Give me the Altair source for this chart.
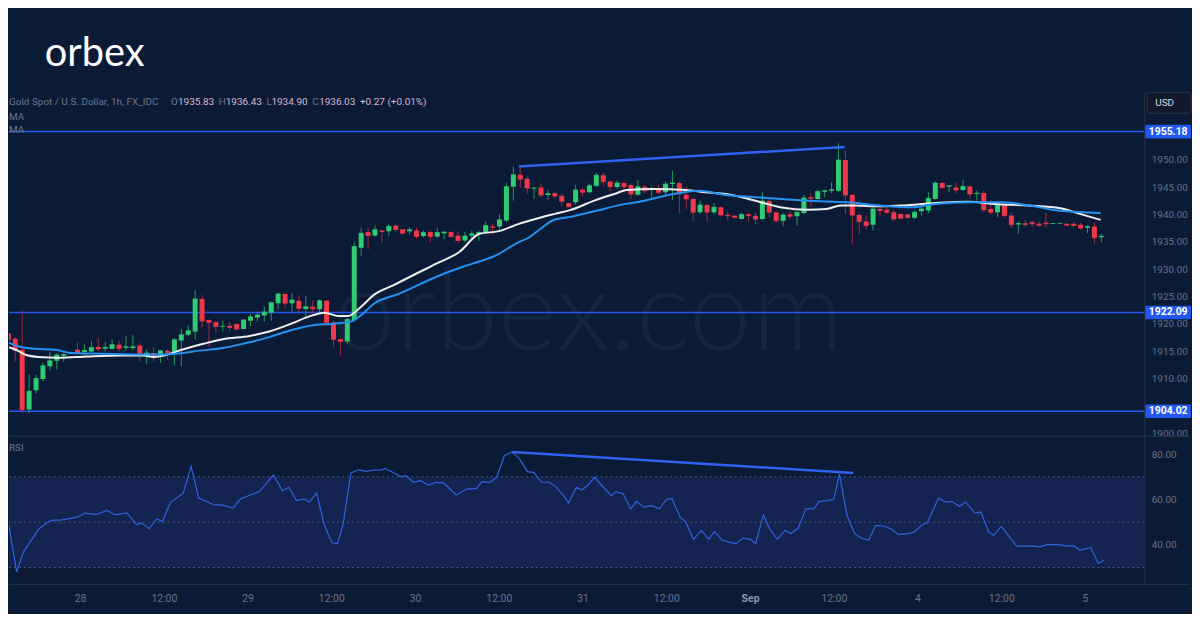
import json
import altair as alt
import pandas as pd

# ---------------- data ----------------
opens = [1918.30, 1917.27, 1915.27, 1904.36, 1907.88, 1909.94, 1912.24, 1913.27, 1914.18, 1914.60,
         1915.27, 1914.85, 1914.97, 1915.76, 1915.45, 1915.45, 1916.18, 1915.64, 1915.58, 1916.06,
         1914.48, 1914.67, 1914.06, 1915.09, 1914.79, 1916.97, 1918.00, 1918.61, 1924.55, 1920.73,
         1920.30, 1919.52, 1919.64, 1920.00, 1919.09, 1920.60, 1921.15, 1921.52, 1922.06, 1923.76,
         1925.45, 1923.76, 1924.24, 1922.73, 1923.15, 1922.67, 1924.24, 1920.24, 1917.21, 1916.80,
         1920.73, 1933.94, 1936.79, 1936.18, 1937.09, 1936.97, 1938.00, 1937.33, 1936.97, 1937.09,
         1936.06, 1936.79, 1936.00, 1936.60, 1936.79, 1936.12, 1935.27, 1936.12, 1936.60, 1936.60,
         1937.82, 1937.82, 1938.90, 1945.09, 1947.27, 1946.55, 1944.79, 1944.97, 1943.58, 1943.88,
         1943.45, 1942.06, 1942.24, 1944.55, 1944.06, 1945.27, 1947.21, 1946.06, 1945.03, 1945.76,
         1945.40, 1943.64, 1945.09, 1944.48, 1944.79, 1944.06, 1945.58, 1945.76, 1943.64, 1942.85,
         1940.42, 1941.76, 1940.42, 1941.33, 1939.97, 1939.80, 1939.20, 1940.06, 1939.80, 1939.20,
         1942.48, 1940.42, 1938.85, 1940.06, 1939.70, 1940.30, 1943.15, 1942.85, 1944.18, 1944.36,
         1944.36, 1950.00, 1943.58, 1939.94, 1938.73, 1938.12, 1941.03, 1940.90, 1940.42, 1940.12,
         1940.00, 1939.40, 1940.60, 1940.73, 1942.85, 1945.76, 1945.15, 1944.97, 1944.48, 1945.15,
         1943.76, 1943.94, 1941.03, 1940.42, 1941.64, 1939.82, 1938.18, 1938.42, 1938.60, 1938.30,
         1938.48, 1938.30, 1938.36, 1938.30, 1938.30, 1938.12, 1937.58, 1937.82, 1935.83]
highs = [1920.24, 1917.58, 1922.42, 1910.73, 1910.73, 1912.97, 1914.85, 1914.67, 1914.67, 1914.90,
         1916.60, 1916.30, 1916.90, 1917.50, 1916.67, 1917.20, 1916.97, 1917.70, 1917.94, 1916.48,
         1915.39, 1915.70, 1915.27, 1915.39, 1917.40, 1919.03, 1919.82, 1926.18, 1925.27, 1920.85,
         1920.55, 1920.60, 1920.36, 1920.06, 1920.85, 1921.80, 1922.20, 1923.15, 1924.06, 1925.76,
         1925.70, 1925.70, 1925.27, 1925.09, 1924.24, 1924.50, 1924.36, 1920.60, 1917.40, 1921.03,
         1934.97, 1937.60, 1937.60, 1938.00, 1937.10, 1938.20, 1938.20, 1937.33, 1937.70, 1937.60,
         1937.09, 1937.09, 1937.60, 1936.90, 1936.97, 1936.79, 1936.79, 1937.10, 1937.10, 1938.80,
         1938.30, 1940.10, 1945.76, 1948.73, 1948.80, 1946.97, 1944.97, 1945.70, 1944.50, 1944.00,
         1943.76, 1942.20, 1945.45, 1944.85, 1945.70, 1947.70, 1947.70, 1946.18, 1946.18, 1946.18,
         1945.70, 1946.30, 1945.40, 1945.15, 1945.45, 1946.06, 1948.00, 1946.06, 1945.09, 1943.15,
         1942.55, 1941.94, 1942.06, 1941.45, 1940.50, 1939.94, 1940.30, 1940.20, 1940.40, 1944.06,
         1942.85, 1940.55, 1940.30, 1940.55, 1940.55, 1943.58, 1943.94, 1944.55, 1944.55, 1945.88,
         1953.03, 1951.64, 1943.76, 1940.12, 1939.82, 1941.33, 1941.33, 1941.33, 1940.73, 1940.30,
         1940.12, 1940.73, 1941.64, 1944.06, 1946.06, 1945.88, 1945.27, 1945.88, 1946.30, 1945.27,
         1944.48, 1944.36, 1942.67, 1941.94, 1941.94, 1940.30, 1938.73, 1939.03, 1938.90, 1938.73,
         1940.30, 1938.40, 1938.45, 1938.42, 1938.73, 1938.55, 1938.00, 1938.60, 1936.43]
lows = [1916.80, 1913.15, 1903.64, 1903.64, 1907.27, 1909.52, 1911.50, 1911.64, 1913.09, 1914.50,
        1914.48, 1914.30, 1914.85, 1915.09, 1914.97, 1915.27, 1914.97, 1915.15, 1915.27, 1913.15,
        1912.67, 1913.09, 1912.85, 1913.45, 1912.42, 1912.24, 1917.82, 1917.09, 1919.39, 1915.76,
        1918.42, 1918.60, 1918.60, 1918.90, 1919.00, 1919.60, 1920.40, 1920.40, 1920.55, 1922.67,
        1922.85, 1922.24, 1922.12, 1921.03, 1921.52, 1921.80, 1920.00, 1915.76, 1914.18, 1916.36,
        1920.40, 1932.36, 1933.64, 1936.00, 1934.80, 1936.06, 1936.80, 1936.50, 1936.36, 1935.60,
        1935.76, 1934.90, 1935.76, 1935.50, 1935.76, 1934.80, 1934.90, 1935.15, 1935.15, 1936.48,
        1936.30, 1937.10, 1938.60, 1942.55, 1944.85, 1943.76, 1942.85, 1943.15, 1942.67, 1943.03,
        1941.64, 1941.33, 1941.82, 1943.33, 1943.88, 1945.09, 1945.15, 1944.24, 1944.67, 1944.24,
        1942.85, 1943.45, 1943.88, 1943.15, 1943.64, 1943.45, 1942.67, 1940.30, 1941.03, 1938.73,
        1940.10, 1938.73, 1940.00, 1939.64, 1938.90, 1939.33, 1939.10, 1938.73, 1938.30, 1938.90,
        1939.52, 1938.48, 1937.88, 1939.09, 1938.00, 1940.06, 1941.50, 1942.73, 1943.15, 1943.94,
        1944.06, 1940.12, 1934.48, 1936.48, 1937.27, 1937.09, 1939.82, 1940.12, 1938.90, 1939.20,
        1939.20, 1939.20, 1939.82, 1940.24, 1942.73, 1944.67, 1944.06, 1943.88, 1944.36, 1942.85,
        1942.55, 1940.42, 1940.00, 1939.52, 1939.39, 1937.52, 1936.48, 1937.70, 1937.70, 1937.82,
        1937.64, 1938.25, 1938.30, 1937.94, 1937.70, 1937.20, 1936.60, 1934.67, 1934.90]
closes = [1917.09, 1915.15, 1904.36, 1907.70, 1910.00, 1912.36, 1913.27, 1914.30, 1914.42, 1914.70,
          1914.67, 1915.15, 1915.70, 1915.39, 1915.70, 1916.18, 1915.52, 1915.82, 1915.82, 1914.55,
          1914.67, 1913.94, 1915.09, 1914.79, 1917.09, 1918.00, 1918.73, 1924.55, 1920.55, 1920.24,
          1919.52, 1919.58, 1919.33, 1919.09, 1920.73, 1921.33, 1921.64, 1922.18, 1923.88, 1925.45,
          1923.76, 1924.36, 1922.85, 1923.15, 1922.79, 1924.24, 1920.24, 1917.21, 1916.80, 1920.85,
          1934.18, 1936.60, 1936.18, 1937.21, 1936.90, 1937.88, 1937.27, 1936.60, 1937.21, 1936.00,
          1936.73, 1936.00, 1936.73, 1936.79, 1936.00, 1935.27, 1936.06, 1936.50, 1936.73, 1938.00,
          1937.70, 1939.03, 1945.09, 1947.27, 1946.48, 1944.85, 1944.85, 1943.58, 1943.82, 1943.40,
          1942.42, 1941.45, 1944.48, 1944.06, 1945.27, 1947.21, 1946.06, 1945.09, 1945.76, 1945.09,
          1943.76, 1945.09, 1944.36, 1944.67, 1944.06, 1945.58, 1945.76, 1943.76, 1942.85, 1940.42,
          1941.76, 1940.42, 1941.33, 1939.94, 1939.76, 1939.50, 1940.00, 1939.80, 1939.20, 1942.48,
          1940.42, 1938.85, 1939.94, 1939.70, 1940.42, 1943.03, 1942.97, 1944.24, 1944.36, 1944.55,
          1950.00, 1943.58, 1939.94, 1938.73, 1938.00, 1941.03, 1940.73, 1940.42, 1939.20, 1939.33,
          1939.45, 1940.42, 1941.03, 1942.97, 1945.76, 1944.97, 1945.27, 1944.48, 1945.15, 1943.76,
          1943.88, 1940.90, 1940.42, 1941.64, 1939.82, 1938.12, 1938.36, 1938.18, 1938.30, 1938.06,
          1938.30, 1938.36, 1938.40, 1938.06, 1938.00, 1937.52, 1937.82, 1935.76, 1936.03]
bar_index = list(range(len(opens)))

fast_ma_pos = [-0.3, 1.1, 2.5, 4.4, 7.2, 11.5, 16.3, 19.6, 21.0, 22.5, 24.3, 26.7, 28.2, 31.0, 34.9,
               37.7, 41.0, 43.4, 45.7, 47.7, 49.1, 51.0, 52.8, 55.7, 58.5, 62.4, 65.2, 68.1, 70.9,
               73.8, 76.6, 79.0, 81.3, 84.7, 87.6, 89.4, 93.3, 98.0, 100.8, 103.7, 106.9, 111.8,
               115.5, 118.3, 120.3, 122.2, 126.0, 129.3, 134.0, 138.9, 142.6, 147.4, 152.1, 154.9, 157.9]
fast_ma_val = [1915.88, 1915.27, 1914.36, 1913.94, 1913.80, 1914.06, 1914.24, 1914.20, 1913.94,
               1914.20, 1914.97, 1915.88, 1916.36, 1917.20, 1917.80, 1918.60, 1920.10, 1921.33,
               1922.06, 1921.45, 1921.45, 1923.15, 1925.27, 1927.09, 1928.90, 1931.33, 1933.15,
               1936.48, 1936.97, 1938.30, 1939.33, 1940.12, 1940.85, 1942.55, 1943.76, 1944.48,
               1944.67, 1944.48, 1944.06, 1943.76, 1942.90, 1941.30, 1940.90, 1941.03, 1941.64,
               1941.64, 1941.50, 1941.64, 1942.12, 1942.36, 1941.94, 1941.64, 1941.15, 1940.12, 1939.03]
slow_ma_pos = [-0.3, 1.5, 3.5, 6.8, 9.2, 13.9, 18.6, 22.5, 25.3, 26.7, 31.0, 33.9, 37.7, 41.0, 44.3,
               46.7, 49.5, 51.0, 52.8, 56.6, 62.4, 65.6, 67.1, 70.5, 73.8, 75.2, 76.6, 79.0, 80.9,
               84.7, 89.4, 90.8, 96.1, 99.8, 103.7, 106.9, 111.8, 116.5, 121.2, 126.0, 130.7, 134.0,
               138.9, 143.5, 148.3, 151.1, 157.9]
slow_ma_val = [1916.79, 1915.88, 1915.50, 1915.27, 1914.67, 1914.55, 1914.42, 1914.42, 1914.67,
               1914.97, 1915.58, 1916.36, 1917.58, 1918.90, 1919.82, 1920.00, 1920.42, 1921.60,
               1923.64, 1925.58, 1928.90, 1930.40, 1931.03, 1932.55, 1934.97, 1935.76, 1937.09,
               1939.09, 1939.50, 1940.60, 1942.00, 1942.24, 1943.76, 1944.36, 1943.58, 1943.27,
               1942.85, 1942.48, 1942.24, 1941.64, 1941.33, 1941.94, 1942.24, 1942.24, 1941.52,
               1940.85, 1940.30]

rsi_pos = [-0.3, 0.8, 1.9, 2.9, 5.1, 6.8, 8.4, 10.6, 11.7, 13.3,
           14.9, 16.0, 17.7, 19.1, 19.8, 20.9, 22.0, 22.8, 23.9, 25.8,
           26.9, 28.0, 30.2, 31.3, 32.9, 34.0, 36.7, 38.7, 40.0, 40.9,
           42.0, 43.1, 43.8, 44.9, 46.0, 47.1, 47.9, 48.7, 49.8, 50.9,
           52.0, 53.1, 54.2, 54.7, 55.8, 56.9, 57.7, 58.8, 59.8, 60.9,
           62.0, 63.1, 64.9, 66.4, 67.8, 68.6, 69.7, 70.7, 71.8, 72.9,
           74.0, 75.1, 76.0, 77.1, 78.2, 79.0, 80.3, 81.0, 82.1, 82.9,
           83.8, 84.7, 86.0, 87.1, 87.8, 88.8, 89.9, 90.7, 91.8, 92.9,
           94.0, 95.1, 95.8, 97.0, 97.8, 98.9, 100.0, 101.1, 101.9, 103.0,
           104.3, 105.0, 106.0, 107.1, 107.8, 108.9, 109.8, 110.9, 112.0, 112.8,
           113.9, 115.0, 116.1, 116.9, 118.0, 119.0, 119.8, 120.9, 122.0, 122.9,
           124.0, 125.0, 126.1, 127.2, 128.3, 129.6, 130.5, 131.6, 132.4, 134.0,
           135.1, 135.9, 137.0, 137.9, 139.2, 140.1, 141.2, 141.9, 143.0, 145.2,
           146.3, 147.4, 148.5, 149.6, 151.2, 152.3, 153.4, 154.3, 155.8, 156.9,
           157.7]
rsi_val = [55.2, 48.6, 28.1, 36.9, 47.1, 50.8, 51.0, 52.2, 54.0, 53.4,
           55.2, 53.2, 54.1, 48.9, 49.7, 47.1, 51.5, 50.3, 58.5, 62.9,
           74.6, 60.6, 57.6, 57.6, 56.2, 60.3, 63.5, 70.8, 63.9, 65.4,
           59.5, 60.3, 58.8, 62.8, 48.6, 40.8, 40.5, 49.3, 71.7, 73.1,
           72.4, 73.0, 73.0, 73.7, 72.0, 70.1, 70.5, 67.6, 68.3, 66.4,
           67.6, 67.3, 62.0, 64.6, 64.9, 67.9, 67.6, 69.8, 79.3, 81.0,
           77.8, 72.3, 72.0, 67.6, 67.6, 66.1, 61.7, 58.5, 65.4, 64.2,
           66.4, 69.8, 65.4, 61.7, 63.5, 62.5, 55.9, 59.2, 56.6, 57.3,
           55.9, 60.3, 60.3, 52.2, 50.0, 42.4, 46.4, 42.4, 45.9, 42.0,
           41.0, 40.5, 43.0, 42.4, 40.5, 53.2, 47.1, 42.4, 46.4, 44.9,
           47.4, 55.9, 55.9, 59.1, 59.5, 60.0, 71.2, 52.9, 44.9, 43.0,
           42.0, 48.6, 48.3, 47.1, 44.5, 44.9, 45.6, 48.6, 49.7, 60.6,
           58.8, 59.1, 57.0, 58.8, 54.1, 54.4, 45.6, 44.2, 48.1, 39.4,
           39.4, 39.5, 39.1, 40.1, 40.1, 39.5, 39.5, 37.6, 38.8, 31.8,
           33.2]

level_prices = [1955.18, 1922.09, 1904.02]
level_texts = ["1955.18", "1922.09", "1904.02"]

price_trend_pos = [73.8, 120.9]
price_trend_val = [1948.80, 1952.36]
rsi_trend_pos = [72.9, 121.8]
rsi_trend_val = [81.0, 71.7]

# 1905.00 sits behind the 1904.02 tag in the reference, so it is not drawn
price_ticks = [1900, 1910, 1915, 1920, 1925, 1930, 1935, 1940, 1945, 1950]
rsi_ticks = [40, 60, 80]
rsi_guides = [30, 50, 70]
rsi_band = [30, 70]
x_tick_pos = [11, 23, 35, 47, 59, 71, 83, 95, 107, 119, 131, 143, 155]
x_tick_text = ["28", "12:00", "29", "12:00", "30", "12:00", "31", "12:00", "Sep", "12:00", "4", "12:00", "5"]

# ---------------- styles ----------------
BG = "#0b1b36"
UP = "#2fcc72"
DN = "#f0384a"
UP_WICK = "#23985a"
DN_WICK = "#a02a3c"
LEVEL = "#2358f0"
TREND = "#2f62f0"
FAST = "#eeeeee"
SLOW = "#2492f0"
RSI_C = "#3062e0"
GRID_DASH = "#4f5a72"
AXIS_LINE = "#283246"
LABEL = "#687189"
FONT = "Roboto"

W = 1142
H_HEAD = 82
H_PRICE = 347
H_RSI = 149

xs = alt.Scale(domain=[0.81, 163.49], nice=False, zero=False)
ys = alt.Scale(domain=[1899.45, 1962.545], nice=False, zero=False)
rs = alt.Scale(domain=[22.54, 87.9], nice=False, zero=False)

price_axis = alt.Axis(orient="right", values=price_ticks, labelExpr="format(datum.value, '.2f')",
                      title=None, grid=False, ticks=False, domain=True, domainColor=AXIS_LINE,
                      labelColor=LABEL, labelFontSize=10, labelFont=FONT, labelPadding=7,
                      labelFlush=False, labelOverlap=False)
rsi_axis = alt.Axis(orient="right", values=rsi_ticks, labelExpr="format(datum.value, '.2f')",
                    title=None, grid=False, ticks=False, domain=True, domainColor=AXIS_LINE,
                    labelColor=LABEL, labelFontSize=10, labelFont=FONT, labelPadding=7,
                    labelFlush=False, labelOverlap=False)
x_label_expr = "%s[indexof(%s, datum.value)]" % (json.dumps(x_tick_text), json.dumps(x_tick_pos))
x_axis = alt.Axis(values=x_tick_pos, labelExpr=x_label_expr, title=None, grid=False, ticks=False,
                  domain=False, labelPadding=9, labelFontSize=10.5, labelFont=FONT, labelFlush=False,
                  labelOverlap=False,
                  labelColor={"condition": {"test": "datum.value == 107", "value": "#8d96ab"}, "value": LABEL},
                  labelFontWeight={"condition": {"test": "datum.value == 107", "value": "bold"}, "value": "normal"})

candles = pd.DataFrame({"i": bar_index, "o": opens, "h": highs, "l": lows, "c": closes})
fast_df = pd.DataFrame({"i": fast_ma_pos, "v": fast_ma_val})
slow_df = pd.DataFrame({"i": slow_ma_pos, "v": slow_ma_val})
rsi_df = pd.DataFrame({"i": rsi_pos, "v": rsi_val})
levels_df = pd.DataFrame({"p": level_prices, "t": level_texts})
ptrend_df = pd.DataFrame({"i": price_trend_pos, "v": price_trend_val})
rtrend_df = pd.DataFrame({"i": rsi_trend_pos, "v": rsi_trend_val})
guides_df = pd.DataFrame({"v": rsi_guides})
band_df = pd.DataFrame({"lo": [rsi_band[0]], "hi": [rsi_band[1]]})
dummy = pd.DataFrame({"k": [0]})

is_up = "datum.c >= datum.o"


def label(txt, x, y, color, size=10, weight="normal", font=FONT, align="left", opacity=1.0,
          baseline="middle"):
    return alt.Chart(dummy).mark_text(text=txt, align=align, baseline=baseline, fontSize=size,
                                      fontWeight=weight, font=font, color=color,
                                      opacity=opacity).encode(x=alt.value(x), y=alt.value(y))


X = lambda f: alt.X(f, type="quantitative", scale=xs, axis=None)
PY = lambda f: alt.Y(f, type="quantitative", scale=ys, axis=price_axis)
RX = lambda f: alt.X(f, type="quantitative", scale=xs, axis=x_axis)
RY = lambda f: alt.Y(f, type="quantitative", scale=rs, axis=rsi_axis)

# ---------------- header ----------------
header = alt.layer(
    label("orbex", 36, 57, "#ffffff", size=40, font="Lato", baseline="alphabetic"),
).properties(width=W, height=H_HEAD)

# ---------------- price panel ----------------
watermark = label("orbex.com", 582, 226, "#ffffff", size=114, font="Lato", weight=300,
                  align="center", opacity=0.045)
level_rules = alt.Chart(levels_df).mark_rule(color=LEVEL, strokeWidth=1.5).encode(y=PY("p"))
wicks = alt.Chart(candles).mark_rule(strokeWidth=1, clip=True).encode(
    x=X("i"), y=PY("l"), y2="h",
    color=alt.condition(is_up, alt.value(UP_WICK), alt.value(DN_WICK)))
bodies = alt.Chart(candles).mark_bar(size=5, clip=True).encode(
    x=X("i"), y=PY("o"), y2="c",
    color=alt.condition(is_up, alt.value(UP), alt.value(DN)))
body_min = alt.Chart(candles).mark_tick(orient="horizontal", size=5, thickness=1, clip=True).encode(
    x=X("i"), y=PY("c"),
    color=alt.condition(is_up, alt.value(UP), alt.value(DN)))
fast_line = alt.Chart(fast_df).mark_line(color=FAST, strokeWidth=2, interpolate="monotone",
                                          clip=True).encode(x=X("i"), y=PY("v"))
slow_line = alt.Chart(slow_df).mark_line(color=SLOW, strokeWidth=2, interpolate="monotone",
                                          clip=True).encode(x=X("i"), y=PY("v"))
ptrend = alt.Chart(ptrend_df).mark_line(color=TREND, strokeWidth=2.5).encode(x=X("i"), y=PY("v"))
level_boxes = alt.Chart(levels_df).transform_calculate(
    top="datum.p + 1.25", bot="datum.p - 1.25"
).mark_rect(color=LEVEL, cornerRadius=1).encode(
    x=alt.value(1143), x2=alt.value(1189), y=PY("top"), y2="bot")
level_text = alt.Chart(levels_df).mark_text(color="#ffffff", fontSize=10.5, font=FONT,
                                            fontWeight="bold", align="center").encode(
    x=alt.value(1166), y=PY("p"), text="t:N")
usd_box = alt.Chart(dummy).mark_rect(color="#10182a", stroke="#2c3549", strokeWidth=1,
                                     cornerRadius=3).encode(
    x=alt.value(1145), x2=alt.value(1189), y=alt.value(1), y2=alt.value(22))

GRAY_T = "#6c758c"
PINK_T = "#dab6cd"
header_texts = [
    label("Gold Spot / U.S. Dollar, 1h, FX_IDC", 0, 11, GRAY_T),
    label("O", 163, 11, GRAY_T), label("1935.83", 170, 11, PINK_T),
    label("H", 211, 11, GRAY_T), label("1936.43", 218, 11, PINK_T),
    label("L", 259, 11, GRAY_T), label("1934.90", 264, 11, PINK_T),
    label("C", 305, 11, GRAY_T), label("1936.03", 312, 11, PINK_T),
    label("+0.27 (+0.01%)", 353, 11, PINK_T),
    label("MA", 0, 26, GRAY_T), label("MA", 0, 39, GRAY_T),
    label("USD", 1153, 12, "#d4d8e0", size=10),
]

price = alt.layer(
    watermark, level_rules, wicks, bodies, body_min, fast_line, slow_line, ptrend,
    level_boxes, level_text, usd_box, *header_texts
).properties(width=W, height=H_PRICE)

# ---------------- RSI panel ----------------
band = alt.Chart(band_df).mark_rect(color="#1a2a60", opacity=0.6).encode(
    x=alt.value(0), x2=alt.value(W), y=RY("lo"), y2="hi")
guides = alt.Chart(guides_df).mark_rule(color=GRID_DASH, strokeDash=[2, 3], strokeWidth=1).encode(
    y=RY("v"))
rsi_line = alt.Chart(rsi_df).mark_line(color=RSI_C, strokeWidth=1.2, clip=True).encode(
    x=RX("i"), y=RY("v"))
rtrend = alt.Chart(rtrend_df).mark_line(color=TREND, strokeWidth=2.5).encode(x=RX("i"), y=RY("v"))
sep_top = alt.Chart(dummy).mark_rule(color="#2a3347", strokeWidth=1).encode(
    x=alt.value(0), x2=alt.value(1188), y=alt.value(0))
sep_bot = alt.Chart(dummy).mark_rule(color="#2a3347", strokeWidth=1).encode(
    x=alt.value(0), x2=alt.value(1188), y=alt.value(H_RSI))

rsi = alt.layer(
    band, guides, rsi_line, rtrend, sep_top, sep_bot,
    label("RSI", 0, 12, GRAY_T)
).properties(width=W, height=H_RSI)

chart = alt.vconcat(header, price, rsi, spacing=0, bounds="flush").properties(
    background=BG,
    padding={"left": 0, "top": 0, "right": 0, "bottom": 8},
).configure_view(stroke=None)

chart.save("out.html", embed_options={"renderer": "svg", "actions": False})
